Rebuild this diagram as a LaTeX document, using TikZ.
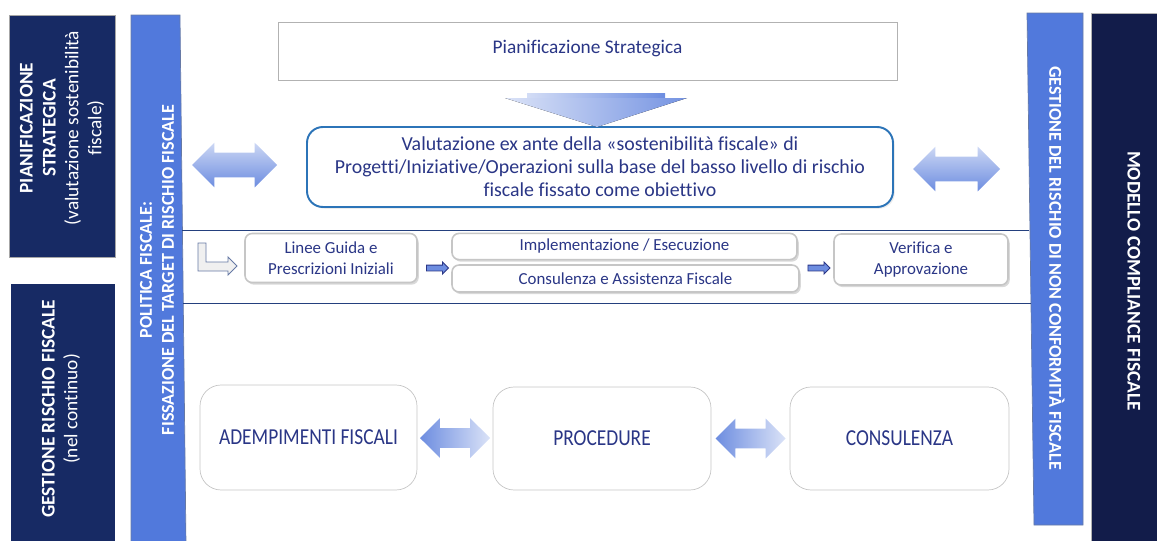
\documentclass[tikz,border=0pt]{standalone}
\usepackage{fontspec}
\setmainfont{Carlito}[Ligatures=NoCommon]
\newfontfamily\condfont[FakeStretch=0.85]{Carlito}
\usetikzlibrary{calc,positioning,shapes.arrows,shadows}

\definecolor{navy}{HTML}{172A64}
\definecolor{deepnavy}{HTML}{121C4A}
\definecolor{barblue}{HTML}{5179DC}
\definecolor{inkblue}{HTML}{2A3686}
\definecolor{rimblue}{HTML}{2C74B8}
\definecolor{arrowblue}{HTML}{6D8DE0}
\definecolor{lineblue}{HTML}{24407E}

\def\px{0.02cm}

\tikzset{
  sidetext/.style={text=white, align=center, font=\fontsize{11}{13}\selectfont},
  bartext/.style={text=white, align=center, font=\bfseries\fontsize{10.3}{12.5}\selectfont},
  planbox/.style={draw=gray!60, fill=white, text=inkblue, font=\fontsize{11}{12}\selectfont},
  evalbox/.style={draw=rimblue, line width=1.1pt, rounded corners=9pt, fill=white,
    text=inkblue, align=center, font=\fontsize{11.3}{13}\selectfont,
    drop shadow={shadow xshift=1pt, shadow yshift=-1pt, opacity=0.15}},
  stepbox/.style={draw=gray!45, line width=0.9pt, rounded corners=4pt, fill=white,
    text=inkblue, align=center, font=\fontsize{9.6}{12}\selectfont,
    drop shadow={shadow xshift=1pt, shadow yshift=-1.2pt, opacity=0.3}},
  areabox/.style={draw=gray!45, rounded corners=12pt, fill=white,
    text=inkblue, font=\condfont\fontsize{13}{15}\selectfont},
  twoway/.style={double arrow, draw=none, inner xsep=0pt, double arrow head indent=0pt},
  oneway/.style={single arrow, draw=inkblue, fill=arrowblue, line width=0.5pt,
    inner xsep=0pt, inner ysep=2.5*\px, single arrow head extend=3*\px,
    minimum width=11*\px, minimum height=22*\px}
}

\begin{document}
\begin{tikzpicture}[x=\px, y=-\px]
\useasboundingbox (0,0) rectangle (1157,541);

% side panels on the left
\fill[navy, draw=gray!70] (9,15) rectangle (115,257);
\node[sidetext, rotate=90] (strat) at (62,128)
  {\textbf{PIANIFICAZIONE}\\\textbf{STRATEGICA}\\(valutazione sostenibilità\\fiscale)};
\fill[navy] (11,284) rectangle (115,545);
\node[sidetext, rotate=90] (cont) at (61,409)
  {\textbf{GESTIONE RISCHIO FISCALE}\\(nel continuo)};

% blue bars
\filldraw[barblue, draw=lineblue!70, thin] (131,15) -- (180,15) -- (186,545) -- (131,545) -- cycle;
\node[bartext, rotate=90] (polit) at (157,270)
  {POLITICA FISCALE:\\FISSAZIONE DEL TARGET DI RISCHIO FISCALE};
\filldraw[barblue, draw=lineblue!70, thin] (1027,13) -- (1083,13) -- (1083,525) -- (1034,525) -- cycle;
\node[bartext, rotate=-90] (nonconf) at (1057,268)
  {GESTIONE DEL RISCHIO DI NON CONFORMITÀ FISCALE};

% right panel
\fill[deepnavy, draw=gray!60] (1091,13) rectangle (1160,545);
\node[bartext, rotate=-90, font=\bfseries\fontsize{11}{13}\selectfont] (model) at (1134,281)
  {MODELLO COMPLIANCE FISCALE};

% separators
\coordinate (sepA) at (182,230);
\coordinate (sepB) at (1029,230);
\coordinate (sepC) at (183,303);
\coordinate (sepD) at (1031,303);
\draw[lineblue, thin] (sepA) -- (sepB);
\draw[lineblue, thin] (sepC) -- (sepD);

% upper part
\node[planbox, minimum width=619*\px, minimum height=58*\px] (plan) at (587.5,51)
  {\raisebox{5pt}{Pianificazione Strategica}};
\node[evalbox, minimum width=586*\px, minimum height=80*\px] (eval) at (600,167)
  {Valutazione ex ante della «sostenibilità fiscale» di\\
   Progetti/Iniziative/Operazioni sulla base del basso livello di rischio\\
   fiscale fissato come obiettivo};

\fill[left color=arrowblue!30, right color=arrowblue] (527,93) rectangle (665,98);
\fill[left color=arrowblue!25, right color=arrowblue!95] (505,98) -- (687,98) -- (597,127) -- cycle;

\node[twoway, top color=arrowblue!35, bottom color=arrowblue, inner ysep=12*\px,
  double arrow head extend=10*\px, minimum width=44*\px, minimum height=85*\px] (dblL) at (234.5,165) {};
\node[twoway, top color=arrowblue!35, bottom color=arrowblue, inner ysep=12*\px,
  double arrow head extend=10*\px, minimum width=44*\px, minimum height=87*\px] (dblR) at (956.5,169) {};

% process row
\filldraw[fill=gray!12, draw=lineblue!70, line width=0.5pt]
  (198,243) -- (206,243) -- (206,262) -- (228,262) -- (228,257) -- (237,266)
  -- (228,275) -- (228,271) -- (198,271) -- cycle;
\node[stepbox, minimum width=172*\px, minimum height=49*\px] (guide) at (331,258)
  {Linee Guida e\\Prescrizioni Iniziali};
\node[stepbox, minimum width=345*\px, minimum height=25*\px] (impl) at (624.5,246.5)
  {Implementazione / Esecuzione};
\node[stepbox, minimum width=347*\px, minimum height=27*\px] (assist) at (625.5,278.5)
  {Consulenza e Assistenza Fiscale};
\node[stepbox, minimum width=174*\px, minimum height=51*\px] (verif) at (921,259.5)
  {Verifica e\\Approvazione};
\node[oneway] (goA) at (436,268) {};
\node[oneway] (goB) at (817.5,268) {};

% lower part
\node[areabox, minimum width=217*\px, minimum height=105*\px] (adem) at (308.5,437.5)
  {ADEMPIMENTI FISCALI};
\node[areabox, minimum width=218*\px, minimum height=103*\px] (proc) at (602,438.5)
  {PROCEDURE};
\node[areabox, minimum width=219*\px, minimum height=103*\px] (consul) at (899.5,438.5)
  {CONSULENZA};
\node[twoway, left color=arrowblue, right color=arrowblue!25, inner ysep=9.5*\px,
  double arrow head extend=10*\px, minimum width=39*\px, minimum height=70*\px]
  (dblA) at ($(adem.east)!0.5!(proc.west)$) {};
\node[twoway, left color=arrowblue, right color=arrowblue!25, inner ysep=9.5*\px,
  double arrow head extend=10*\px, minimum width=39*\px, minimum height=70*\px]
  (dblB) at ($(proc.east)!0.5!(consul.west)$) {};

\end{tikzpicture}
\end{document}
